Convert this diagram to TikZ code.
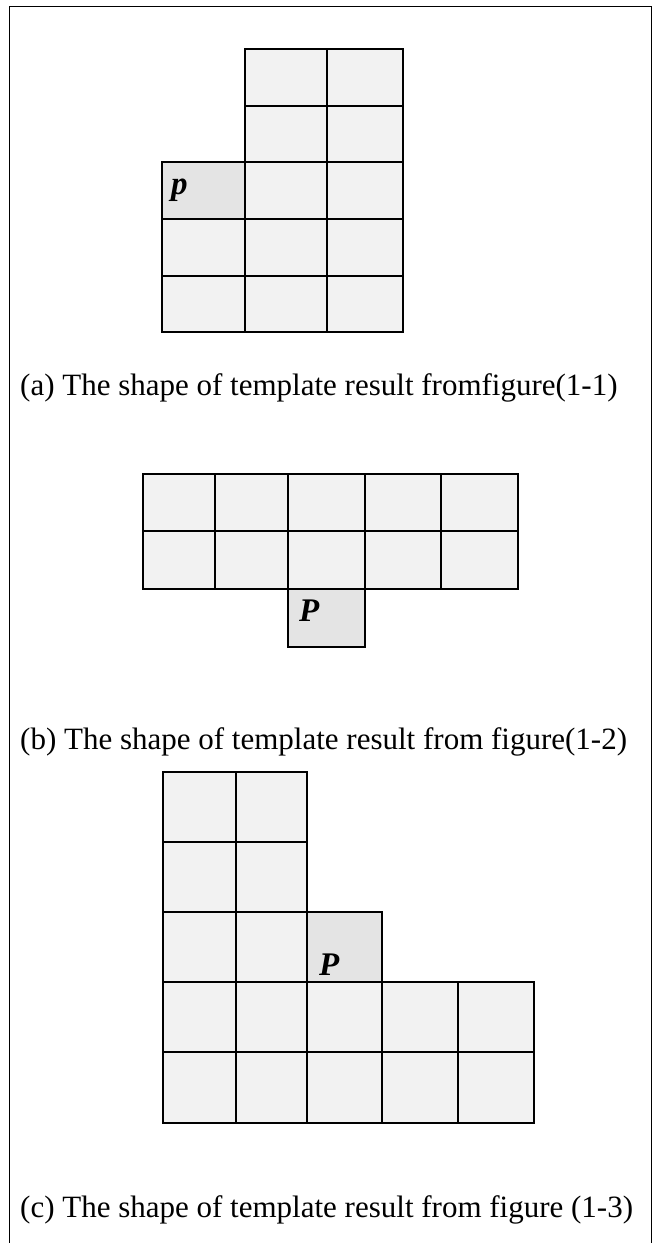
\documentclass[tikz,border=0pt]{standalone}
\usepackage{fontspec}
\setmainfont{Liberation Serif}
\begin{document}
\begin{tikzpicture}[x=1pt,y=-1pt,
  cell/.style={fill=cellgray,draw=black,line width=2pt},
  pcell/.style={fill=pgray,draw=black,line width=2pt},
  caption/.style={anchor=base west,inner sep=0pt,font=\fontsize{31}{34}\selectfont},
  plabel/.style={anchor=base west,inner sep=0pt,font=\fontsize{33}{36}\selectfont\bfseries\itshape}]
\definecolor{cellgray}{HTML}{F2F2F2}
\definecolor{pgray}{HTML}{E4E4E4}
\useasboundingbox (0,0) rectangle (661,1243);
% outer frame (bottom edge not shown)
\draw[line width=1.6pt] (9.5,1250) -- (9.5,6.5) -- (651.5,6.5) -- (651.5,1250);
% ---- (a) ----
\foreach \xa/\xb in {245/327,327/403}{
  \foreach \ya/\yb in {49/106,106/162}{
    \draw[cell] (\xa,\ya) rectangle (\xb,\yb);}}
\foreach \xa/\xb in {162/245,245/327,327/403}{
  \foreach \ya/\yb in {162/219,219/276,276/332}{
    \draw[cell] (\xa,\ya) rectangle (\xb,\yb);}}
\draw[pcell] (162,162) rectangle (245,219);
\node[plabel] (pa) at (171,194) {p};
\node[caption] (capa) at (20,395) {(a) The shape of template result fromfigure(1-1)};
% ---- (b) ----
\foreach \xa/\xb in {143/215,215/288,288/365,365/441,441/518}{
  \foreach \ya/\yb in {474/531,531/589}{
    \draw[cell] (\xa,\ya) rectangle (\xb,\yb);}}
\draw[pcell] (288,589) rectangle (365,647);
\node[plabel] (pb) at (299,621) {P};
\node[caption] (capb) at (20,749) {(b) The shape of template result from figure(1-2)};
% ---- (c) ----
\foreach \xa/\xb in {163/236,236/307}{
  \foreach \ya/\yb in {772/842,842/912,912/982}{
    \draw[cell] (\xa,\ya) rectangle (\xb,\yb);}}
\foreach \xa/\xb in {163/236,236/307,307/382,382/458,458/534}{
  \foreach \ya/\yb in {982/1052,1052/1123}{
    \draw[cell] (\xa,\ya) rectangle (\xb,\yb);}}
\draw[pcell] (307,912) rectangle (382,982);
\node[plabel] (pc) at (319,975) {P};
\node[caption] (capc) at (20,1217) {(c) The shape of template result from figure (1-3)};
\end{tikzpicture}
\end{document}
